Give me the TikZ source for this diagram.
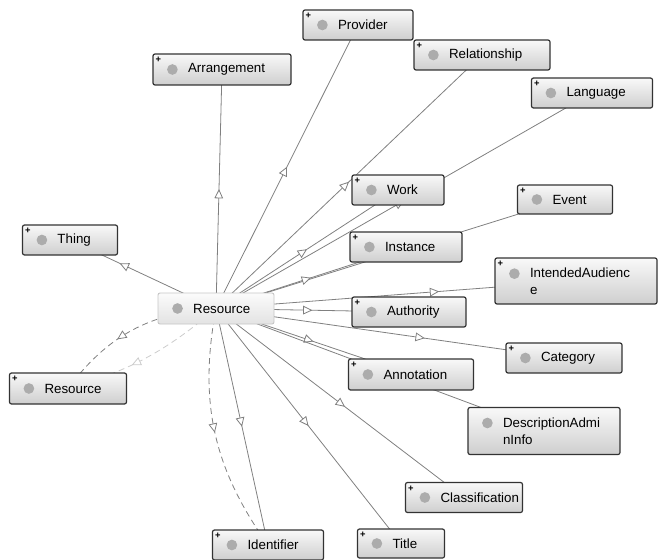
\documentclass[tikz,border=0pt]{standalone}
\usepackage{fontspec}
\setsansfont{Liberation Sans}
\usetikzlibrary{arrows.meta,backgrounds,decorations.markings}
\tikzset{
    classbox/.style={draw=black!80, line width=0.9pt, rounded corners=1.5pt,
                     top color=gray!5, bottom color=gray!38, inner sep=0pt},
    focusbox/.style={classbox, draw=gray!45, line width=0.7pt,
                     top color=gray!3, bottom color=gray!22},
    classdot/.style={circle, fill=gray!65, minimum size=8pt, inner sep=0pt},
    classtext/.style={anchor=west, inner sep=0pt, align=left,
                      font=\sffamily\fontsize{10}{13}\selectfont},
    plusmark/.style={inner sep=0pt, font=\sffamily\bfseries\fontsize{7}{7}\selectfont},
    link/.style={draw=black!50, line width=0.6pt},
    inferred/.style={link, dash pattern=on 4.5pt off 3pt},
    isa/.style={postaction={decorate, decoration={markings,
        mark=at position #1 with {\arrow{Triangle[length=7pt, width=6.5pt, fill=white]}}}}},
    isa/.default=0.5,
}
% box with grey dot and class name, optional arg lifts the dot
\newcommand{\ontoclass}[6][0pt]{
    \node[classbox, minimum width=#4, minimum height=#5] (#2) at #3 {};
    \node[classdot] (#2-dot) at ([shift={(15pt,#1)}]#2.west) {};
    \node[classtext] (#2-text) at ([xshift=26.5pt]#2.west) {#6};
}
\newcommand{\expandmark}[1]{
    \node[plusmark] (#1-plus) at ([shift={(4.5pt,-4.8pt)}]#1.north west) {+};
}

\begin{document}
\begin{tikzpicture}[x=0.75pt, y=-0.75pt]
    \useasboundingbox (0,0) rectangle (665,560);

    % focus class
    \node[focusbox, minimum width=87pt, minimum height=23.25pt] (res) at (216,308.5) {};
    \node[classdot] (res-dot) at ([xshift=15pt]res.west) {};
    \node[classtext] (res-text) at ([xshift=26.5pt]res.west) {Resource};

    % neighbours
    \ontoclass{prov}{(358,25)}{82.5pt}{22.5pt}{Provider}
    \ontoclass{arr}{(222,69.5)}{103.5pt}{23.25pt}{Arrangement}
    \ontoclass{rel}{(482,55)}{102pt}{22.5pt}{Relationship}
    \ontoclass{lang}{(592,93)}{90.75pt}{22.5pt}{Language}
    \ontoclass{work}{(398,190)}{69pt}{22.5pt}{Work}
    \ontoclass{event}{(565,199.5)}{71.25pt}{21.75pt}{Event}
    \ontoclass{thing}{(70,240)}{71.25pt}{22.5pt}{Thing}
    \ontoclass{inst}{(406,247)}{84pt}{22.5pt}{Instance}
    \ontoclass[5.5pt]{aud}{(576,281)}{121.5pt}{34.5pt}{IntendedAudienc\\e}
    \ontoclass{auth}{(409,312)}{85.5pt}{22.5pt}{Authority}
    \ontoclass{cat}{(564,358)}{87pt}{22.5pt}{Category}
    \ontoclass{ann}{(411,374.5)}{93.75pt}{23.25pt}{Annotation}
    \ontoclass{resl}{(68,388.5)}{87.75pt}{23.25pt}{Resource}
    \ontoclass[6pt]{desc}{(544,431)}{114pt}{35.25pt}{DescriptionAdmi\\nInfo}
    \ontoclass{cls}{(464,497.5)}{87.75pt}{22.5pt}{Classification}
    \ontoclass{ident}{(268,545)}{83.25pt}{22.5pt}{Identifier}
    \ontoclass{title}{(401,543.5)}{65.25pt}{21.75pt}{Title}

    \foreach \c in {prov,arr,rel,lang,work,event,thing,inst,aud,auth,cat,ann,resl,cls,ident,title}
        {\expandmark{\c}}

    % subclass links, behind the boxes
    \begin{pgfonlayer}{background}
        \draw[link, isa] (res.center) -- (arr.center);
        \draw[link, isa] (res.center) -- (prov.center);
        \draw[link, isa] (res.center) -- (rel.center);
        \draw[link, isa] (res.center) -- (lang.center);
        \draw[link, isa] (res.center) -- (work.center);
        \draw[link, isa] (res.center) -- (event.center);
        \draw[link, isa] (res.center) -- (inst.center);
        \draw[link, isa=0.62] (res.center) -- (aud.center);
        \draw[link, isa] (res.center) -- (auth.center);
        \draw[link, isa=0.6] (res.center) -- (cat.center);
        \draw[link, isa] (res.center) -- (ann.center);
        \draw[link, isa] (res.center) -- (desc.center);
        \draw[link, isa=0.52] (res.center) -- (cls.center);
        \draw[link, isa] (res.center) -- (title.center);
        \draw[link, isa] (res.center) -- (ident.center);
        \draw[inferred, isa] (res.center) to[bend right=23] (ident.center);
        \draw[link, isa=0.66] (res.center) -- (thing.center);
        \draw[inferred, isa=0.6] (res.center) to[bend right=25] (resl.center);
        \draw[inferred, draw=black!20, isa=0.6] (res.center) to[bend left=12] (resl.center);
    \end{pgfonlayer}
\end{tikzpicture}
\end{document}
